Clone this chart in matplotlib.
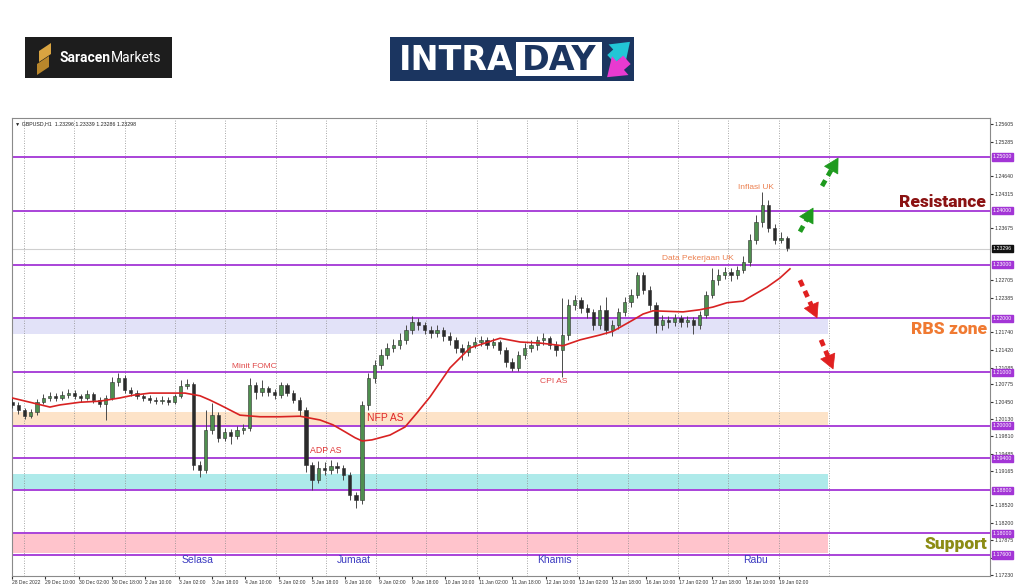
import numpy as np
import matplotlib
matplotlib.use("Agg")
import matplotlib.pyplot as plt
from matplotlib.patches import Rectangle, Polygon
from matplotlib.transforms import blended_transform_factory

plt.rcParams['font.family'] = ['Liberation Sans', 'DejaVu Sans']

# GBPUSD, 3-hour candles (open = previous close)
first_open = 1.2045
closes = [
    1.2039, 1.2029, 1.2018, 1.2026, 1.2044, 1.2052, 1.2055, 1.2052, 1.2057, 1.2061,
    1.2055, 1.2052, 1.2059, 1.2048, 1.2041, 1.2052, 1.2081, 1.2089, 1.2067, 1.2061,
    1.2055, 1.2052, 1.2048, 1.2046, 1.2048, 1.2044, 1.2055, 1.2074, 1.2078, 1.1927,
    1.1918, 1.1992, 1.2020, 1.1977, 1.1988, 1.1981, 1.1992, 1.1996, 1.2076, 1.2063,
    1.2070, 1.2063, 1.2057, 1.2076, 1.2061, 1.2048, 1.2029, 1.1927, 1.1899, 1.1922,
    1.1918, 1.1925, 1.1922, 1.1909, 1.1871, 1.1862, 1.2039, 1.2089, 1.2113, 1.2132,
    1.2145, 1.2150, 1.2160, 1.2178, 1.2193, 1.2187, 1.2178, 1.2173, 1.2178, 1.2167,
    1.2160, 1.2145, 1.2137, 1.2150, 1.2156, 1.2160, 1.2150, 1.2156, 1.2141, 1.2119,
    1.2108, 1.2132, 1.2145, 1.2150, 1.2160, 1.2163, 1.2150, 1.2141, 1.2169, 1.2225,
    1.2234, 1.2219, 1.2212, 1.2187, 1.2215, 1.2178, 1.2187, 1.2212, 1.2230, 1.2243,
    1.2281, 1.2253, 1.2225, 1.2187, 1.2197, 1.2193, 1.2200, 1.2193, 1.2197, 1.2187,
    1.2206, 1.2243, 1.2271, 1.2281, 1.2286, 1.2281, 1.2290, 1.2305, 1.2346, 1.2379,
    1.2411, 1.2368, 1.2346, 1.2349, 1.2330]
highs = [
    1.2052, 1.2044, 1.2034, 1.2031, 1.2050, 1.2060, 1.2063, 1.2061, 1.2065, 1.2068,
    1.2066, 1.2060, 1.2066, 1.2063, 1.2053, 1.2057, 1.2090, 1.2098, 1.2094, 1.2072,
    1.2066, 1.2060, 1.2057, 1.2054, 1.2055, 1.2053, 1.2060, 1.2085, 1.2087, 1.2082,
    1.1935, 1.2029, 1.2042, 1.2025, 1.1996, 1.1994, 1.2000, 1.2004, 1.2089, 1.2082,
    1.2085, 1.2075, 1.2068, 1.2082, 1.2080, 1.2066, 1.2053, 1.2035, 1.1932, 1.1935,
    1.1933, 1.1936, 1.1933, 1.1927, 1.1914, 1.1878, 1.2046, 1.2098, 1.2122, 1.2143,
    1.2155, 1.2162, 1.2172, 1.2188, 1.2205, 1.2200, 1.2194, 1.2186, 1.2188, 1.2183,
    1.2174, 1.2166, 1.2152, 1.2158, 1.2165, 1.2168, 1.2166, 1.2164, 1.2160, 1.2147,
    1.2126, 1.2140, 1.2154, 1.2160, 1.2168, 1.2172, 1.2168, 1.2158, 1.2238, 1.2236,
    1.2244, 1.2240, 1.2226, 1.2218, 1.2224, 1.2240, 1.2196, 1.2220, 1.2240, 1.2255,
    1.2287, 1.2286, 1.2260, 1.2230, 1.2206, 1.2205, 1.2208, 1.2207, 1.2205, 1.2203,
    1.2214, 1.2250, 1.2294, 1.2292, 1.2296, 1.2294, 1.2298, 1.2315, 1.2356, 1.2392,
    1.2435, 1.2420, 1.2375, 1.2360, 1.2354]
lows = [
    1.2033, 1.2022, 1.2013, 1.2014, 1.2021, 1.2040, 1.2047, 1.2046, 1.2048, 1.2052,
    1.2050, 1.2045, 1.2048, 1.2042, 1.2035, 1.2011, 1.2048, 1.2075, 1.2061, 1.2055,
    1.2050, 1.2046, 1.2042, 1.2040, 1.2041, 1.2039, 1.2040, 1.2052, 1.2068, 1.1918,
    1.1905, 1.1912, 1.1985, 1.1970, 1.1972, 1.1966, 1.1976, 1.1985, 1.1990, 1.2050,
    1.2056, 1.2055, 1.2050, 1.2052, 1.2055, 1.2042, 1.2018, 1.1915, 1.1881, 1.1893,
    1.1908, 1.1911, 1.1912, 1.1900, 1.1862, 1.1848, 1.1855, 1.2030, 1.2080, 1.2105,
    1.2125, 1.2138, 1.2143, 1.2152, 1.2170, 1.2178, 1.2170, 1.2163, 1.2166, 1.2158,
    1.2150, 1.2135, 1.2122, 1.2130, 1.2144, 1.2148, 1.2143, 1.2144, 1.2133, 1.2110,
    1.2102, 1.2103, 1.2125, 1.2138, 1.2142, 1.2150, 1.2143, 1.2130, 1.2090, 1.2160,
    1.2215, 1.2210, 1.2200, 1.2178, 1.2180, 1.2170, 1.2168, 1.2180, 1.2205, 1.2222,
    1.2238, 1.2245, 1.2215, 1.2173, 1.2178, 1.2182, 1.2185, 1.2183, 1.2184, 1.2171,
    1.2180, 1.2200, 1.2238, 1.2262, 1.2273, 1.2270, 1.2274, 1.2284, 1.2298, 1.2338,
    1.2370, 1.2360, 1.2338, 1.2340, 1.2325]

# moving average (red line): hour offset / value
ma_hours = [0, 8.6, 18.2, 23, 32.6, 42.2, 51.8, 58, 66.2, 83, 90.2, 95, 99.8, 109.4,
            119, 128.6, 138.2, 147.8, 154, 159.8, 164.6, 168, 172.7, 181.4, 188.6,
            194.3, 200.6, 210.2, 219.8, 227, 234.2, 243.8, 253.4, 264.4, 272.6, 282.1,
            288.4, 298, 302.8, 307.6, 322, 330.1, 336.4, 343.1, 350.8, 355.6, 362.3,
            368.5, 373.3]
ma_vals = [1.2052, 1.2044, 1.2035, 1.2039, 1.2044, 1.2046, 1.2052, 1.2057, 1.2061,
           1.2061, 1.2056, 1.2048, 1.2039, 1.2020, 1.2017, 1.2017, 1.2018, 1.2011,
           1.2002, 1.1989, 1.1978, 1.1972, 1.1974, 1.1983, 1.1998, 1.2024, 1.2054,
           1.2108, 1.2145, 1.2154, 1.2163, 1.2156, 1.2154, 1.2149, 1.2160, 1.2169,
           1.2176, 1.2197, 1.2208, 1.2214, 1.2212, 1.2216, 1.2221, 1.2229, 1.2232,
           1.2243, 1.2258, 1.2275, 1.2292]

levels = [1.25, 1.24, 1.23, 1.22, 1.21, 1.20, 1.194, 1.188, 1.18, 1.176]
current_price = 1.23296

zones = [  # (low, high, colour)
    (1.2170, 1.2198, "#e2e2f8"),
    (1.2001, 1.2025, "#fde3c8"),
    (1.1883, 1.1911, "#aeeaea"),
    (1.1763, 1.1799, "#ffc4cc"),
]

y_ticks = [1.25605, 1.25285, 1.24640, 1.24315, 1.23675, 1.22705, 1.22385, 1.21740,
           1.21420, 1.21085, 1.20775, 1.20450, 1.20130, 1.19810, 1.19485, 1.19165,
           1.18520, 1.18200, 1.17875, 1.17550, 1.17230]
x_labels = ["28 Dec 2022", "29 Dec 10:00", "30 Dec 02:00", "30 Dec 18:00", "2 Jan 10:00",
            "3 Jan 02:00", "3 Jan 18:00", "4 Jan 10:00", "5 Jan 02:00", "5 Jan 18:00",
            "6 Jan 10:00", "9 Jan 02:00", "9 Jan 18:00", "10 Jan 10:00", "11 Jan 02:00",
            "11 Jan 18:00", "12 Jan 10:00", "13 Jan 02:00", "13 Jan 18:00", "16 Jan 10:00",
            "17 Jan 02:00", "17 Jan 18:00", "18 Jan 10:00", "19 Jan 02:00"]

events = [  # text, hour, price, size, colour
    ("Minit FOMC", 105.6, 1.2111, 6, "#e04848"),
    ("ADP AS", 143, 1.1955, 6.3, "#e03030"),
    ("NFP AS", 170.3, 1.2015, 7.5, "#e02828"),
    ("CPI AS", 253.4, 1.2082, 6.1, "#e04848"),
    ("Data Pekerjaan UK", 312, 1.2312, 6, "#ec8050"),
    ("Inflasi UK", 348.4, 1.2444, 6, "#ec8050"),
]
days = [("Selasa", 81.6), ("Jumaat", 156), ("Khamis", 252), ("Rabu", 350.8)]

# scenario arrows: tail, tip (hour, price)
arrows = [
    ((378.1, 1.2361), (384.4, 1.2405), "#1e9a1e"),
    ((388.7, 1.2446), (396.4, 1.2498), "#1e9a1e"),
    ((378.1, 1.2271), (386.3, 1.2201), "#e02020"),
    ((388.2, 1.2160), (394.0, 1.2106), "#e02020"),
]

W, H = 1024, 587
PX_PER_H = 2.084
fig = plt.figure(figsize=(W / 100, H / 100), dpi=100)

# logos, drawn in pixel coordinates
lax = fig.add_axes([0, 0, 1, 1], zorder=-1)
lax.set_xlim(0, W)
lax.set_ylim(H, 0)
lax.axis("off")
lax.add_patch(Rectangle((25, 37), 147, 41, fc="#1d1d1d", ec="none"))
lax.add_patch(Polygon([(39, 51), (51, 43), (51, 54), (39, 62)], fc="#d9a441"))
lax.add_patch(Polygon([(37, 64), (49, 56), (49, 67), (37, 75)], fc="#b8862b"))
lax.text(59, 58, "Saracen", color="white", fontsize=10, fontweight="bold",
         family="Roboto", va="center", ha="left")
lax.text(111, 58, "Markets", color="white", fontsize=10, family="Roboto",
         va="center", ha="left")
lax.add_patch(Rectangle((390, 37), 244, 44, fc="#1b3560", ec="none"))
lax.add_patch(Rectangle((516, 42), 86, 34, fc="white", ec="none"))
lax.text(399, 60, "INTRA", color="white", fontsize=24, fontweight="bold",
         family="DejaVu Sans", va="center", ha="left")
lax.text(559, 60, "DAY", color="#1b3560", fontsize=24, fontweight="bold",
         family="DejaVu Sans", va="center", ha="center")
lax.annotate("", xy=(632, 40), xytext=(609, 61),
             arrowprops=dict(arrowstyle="simple,head_length=0.7,head_width=1.0,tail_width=0.45",
                             fc="#22c6d6", ec="none", mutation_scale=18))
lax.annotate("", xy=(605, 79), xytext=(629, 58),
             arrowprops=dict(arrowstyle="simple,head_length=0.7,head_width=1.0,tail_width=0.45",
                             fc="#e83ad0", ec="none", mutation_scale=18))

# main chart
ax = fig.add_axes([12 / W, (H - 576) / H, 978 / W, (576 - 118) / H])
ax.set_xlim(0, 978 / PX_PER_H)
ax.set_ylim(1.17209, 1.25725)
zone_end = (828 - 12) / PX_PER_H

for lo, hi, c in zones:
    ax.fill_between([0, zone_end], lo, hi, color=c, lw=0, zorder=1)

for k in range(17):
    gx = (24 + 50.3 * k - 12) / PX_PER_H
    ax.axvline(gx, color="#8a8a8a", lw=0.6, ls=(0, (1, 2)), zorder=1.5)

ax.axhline(current_price, color="#cfcfcf", lw=0.8, zorder=1.6)
for lv in levels:
    ax.axhline(lv, color="#a335d6", lw=1.3, zorder=2)

hours = np.arange(len(closes)) * 3
opens = np.array([first_open] + closes[:-1])
c_arr = np.array(closes)
up = c_arr >= opens
ax.vlines(hours, lows, highs, color="#4a4a4a", lw=0.7, zorder=3)
ax.bar(hours, np.maximum(np.abs(c_arr - opens), 0.00008), width=1.6,
       bottom=np.minimum(c_arr, opens),
       color=np.where(up, "#4f8f4f", "#2b2b2b"), edgecolor="#303030",
       linewidth=0.4, zorder=4)

ax.plot(ma_hours, ma_vals, color="#d82222", lw=1.2, zorder=5)

for txt, hx, py, fs, col in events:
    ax.text(hx, py, txt, fontsize=fs, color=col, va="center", ha="left", zorder=6)
for txt, hx in days:
    ax.text(hx, 1.1751, txt, fontsize=7.5, color="#3a3ac0", va="center", ha="left", zorder=6)

big = dict(fontsize=12.5, fontweight="black", family="Roboto", ha="right",
           va="center", zorder=6)
ax.text(467.4, 1.2416, "Resistance", color="#8b1212", **big)
ax.text(467.8, 1.2180, "RBS zone", color="#f07a32", **big)
ax.text(467.8, 1.1780, "Support", color="#8c8c14", **big)

# dashed shaft + solid head
for (tx, ty), (hx, hy), col in arrows:
    bx, by = tx + 0.68 * (hx - tx), ty + 0.68 * (hy - ty)
    ax.plot([tx, bx], [ty, by], color=col, lw=3.4, ls=(0, (1.4, 1.1)),
            solid_capstyle="butt", zorder=6)
    ax.annotate("", xy=(hx, hy), xytext=(bx, by), zorder=6,
                arrowprops=dict(arrowstyle="simple,head_length=1.0,head_width=1.1,tail_width=0.01",
                                fc=col, ec=col, lw=0.5, mutation_scale=10,
                                shrinkA=0, shrinkB=0))

ax.text(0.003, 0.993, "\u25bc GBPUSD,H1  1.23296 1.23339 1.23286 1.23298",
        transform=ax.transAxes, fontsize=3.8, va="top", ha="left", color="#222")

# axes styling, MT4 like
for sp in ax.spines.values():
    sp.set_color("#8a8a8a")
    sp.set_linewidth(0.8)
ax.yaxis.tick_right()
ax.set_yticks(y_ticks)
ax.set_yticklabels([f"{v:.5f}" for v in y_ticks])
ax.tick_params(axis="y", labelsize=3.8, length=2, pad=1.5, colors="#333333")
ax.set_xticks(np.arange(len(x_labels)) * 16)
ax.set_xticklabels(x_labels, ha="left")
ax.tick_params(axis="x", labelsize=3.6, length=2, pad=1.2, colors="#333333")

tr = blended_transform_factory(ax.transAxes, ax.transData)
for lv in levels:
    ax.text(1.003, lv, f"{lv:.5f}", transform=tr, fontsize=3.8, color="white",
            va="center", ha="left", zorder=10,
            bbox=dict(boxstyle="square,pad=0.2", fc="#a335d6", ec="#a335d6"))
ax.text(1.003, current_price, f"{current_price:.5f}", transform=tr, fontsize=3.8,
        color="white", va="center", ha="left", zorder=10,
        bbox=dict(boxstyle="square,pad=0.2", fc="#111111", ec="#111111"))

fig.savefig("out.png", dpi=100)
